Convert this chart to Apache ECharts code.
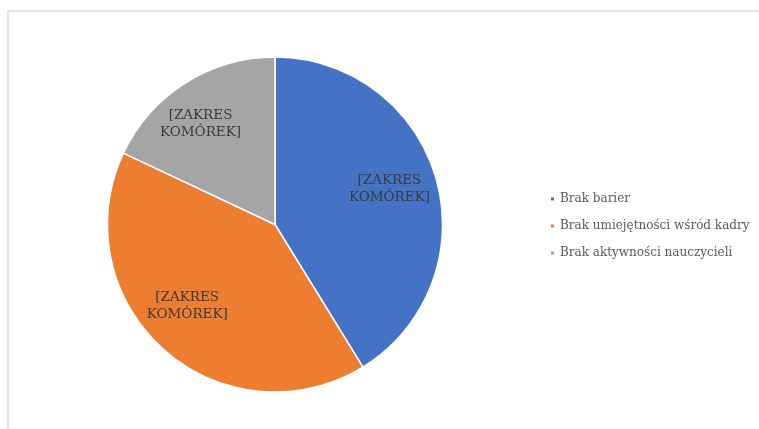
<!DOCTYPE html>
<html>
<head>
<meta charset="utf-8">
<script src="https://cdn.jsdelivr.net/npm/echarts@6/dist/echarts.min.js"></script>
<style>
  html, body { margin: 0; padding: 0; background: #fff; }
  #frame {
    position: absolute; left: 7px; top: 10px; width: 800px; height: 480px;
    border: 2px solid #e4e4e4; box-sizing: border-box;
  }
  #chart { position: absolute; left: 0; top: 0; width: 759px; height: 429px; }
</style>
</head>
<body>
<div id="frame"></div>
<div id="chart"></div>
<script>
// Shares of responses per category
const categories = ['Brak barier', 'Brak umiejętności wśród kadry', 'Brak aktywności nauczycieli'];
const values = [41.2, 40.8, 18.0];
const sliceLabels = ['[ZAKRES\nKOMÓREK]', '[ZAKRES\nKOMÓREK]', '[ZAKRES\nKOMÓREK]'];
const colors = ['#4472C4', '#ED7D31', '#A5A5A5'];
// label nudges away from the default inner position
const labelOffsets = [[31, -12], [-30, 17], [-28, -27]];

const chart = echarts.init(document.getElementById('chart'));
chart.setOption({
  animation: false,
  backgroundColor: 'transparent',
  color: colors,
  legend: {
    orient: 'vertical',
    left: 544,
    top: 187,
    icon: 'rect',
    itemWidth: 5,
    itemHeight: 5,
    itemGap: 13,
    textStyle: {
      fontFamily: 'DejaVu Serif',
      fontSize: 12,
      lineHeight: 14,
      color: '#595959'
    },
    data: categories
  },
  series: [{
    type: 'pie',
    center: [275, 224.5],
    radius: 167.5,
    startAngle: 90,
    clockwise: true,
    itemStyle: { borderColor: '#ffffff', borderWidth: 1.5 },
    label: {
      show: true,
      position: 'inside',
      fontFamily: 'DejaVu Serif',
      fontSize: 13.5,
      lineHeight: 17,
      color: '#3a3a3a',
      align: 'center'
    },
    labelLine: { show: false },
    emphasis: { disabled: true },
    data: categories.map((name, i) => ({
      name: name,
      value: values[i],
      label: { formatter: sliceLabels[i], offset: labelOffsets[i] }
    }))
  }]
});
</script>
</body>
</html>
